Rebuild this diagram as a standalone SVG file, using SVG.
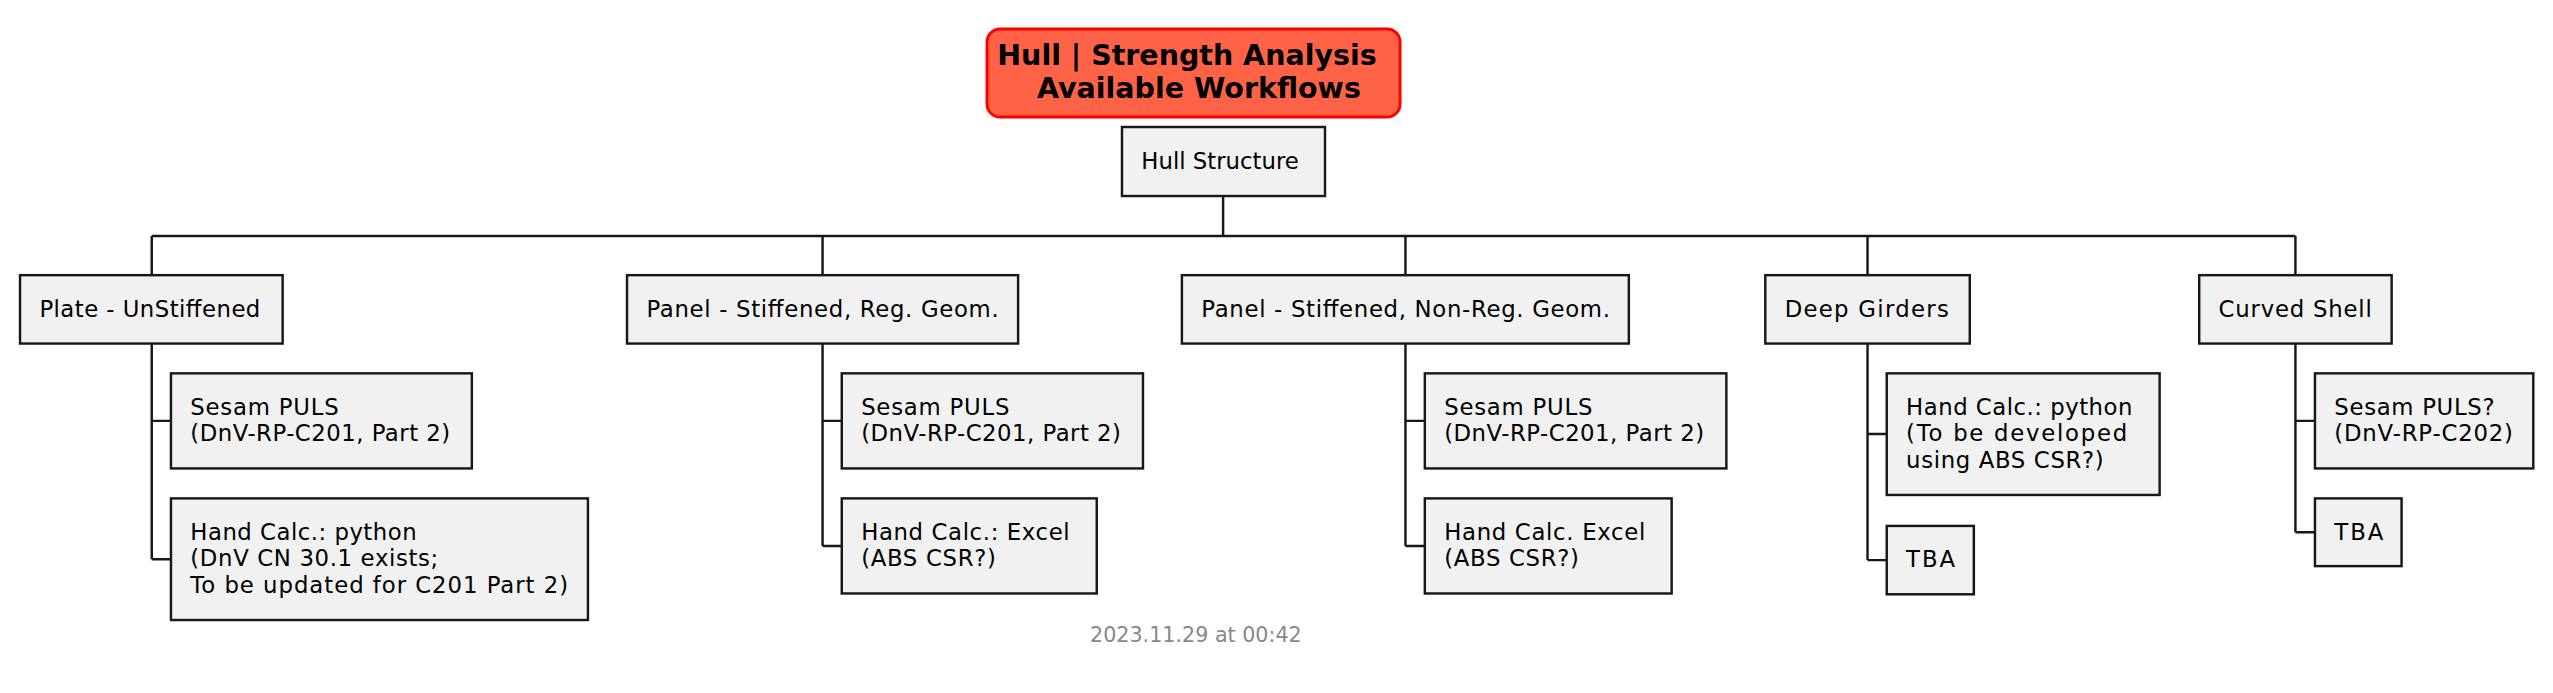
<svg xmlns="http://www.w3.org/2000/svg" width="2553" height="693" viewBox="0 0 2553 693">
<style>
.box{fill:#F1F1F1;stroke:#181818;stroke-width:1.5}
.t{font-family:"DejaVu Sans","Liberation Sans",sans-serif;font-size:14px;fill:#000000}
.title{font-family:"DejaVu Sans","Liberation Sans",sans-serif;font-size:17.5px;font-weight:bold;fill:#000000}
.foot{font-family:"DejaVu Sans","Liberation Sans",sans-serif;font-size:12.7px;fill:#888888}
.ln{fill:none;stroke:#181818;stroke-width:1.5}
</style>
<rect width="2553" height="693" fill="#FFFFFF"/>
<g transform="scale(1.62819)">
<g id="title">
<rect x="606.2" y="17.8" width="253.7" height="54.1" rx="8" ry="8" fill="#FF6347" stroke="#FF0000" stroke-width="1.8"/>
<text class="title" x="612.5" y="39.9">Hull | Strength Analysis</text>
<text class="title" x="636.9" y="60.2">Available Workflows</text>
</g>
<g id="connectors">
<path class="ln" d="M751.2 120.4 V144.9 M93.2 144.9 H1409.8 M93.2 144.9 V169 M505.2 144.9 V169 M863.2 144.9 V169 M1147 144.9 V169 M1409.8 144.9 V169"/>
<path class="ln" d="M93.2 211 V343.5 M93.2 258.5 H105 M93.2 343.5 H105"/>
<path class="ln" d="M505.2 211 V335.3 M505.2 258.5 H517 M505.2 335.3 H517"/>
<path class="ln" d="M863.2 211 V335.3 M863.2 258.5 H875.1 M863.2 335.3 H875.1"/>
<path class="ln" d="M1147 211 V344 M1147 266.6 H1158.8 M1147 344 H1158.8"/>
<path class="ln" d="M1409.8 211 V326.9 M1409.8 258.5 H1421.8 M1409.8 326.9 H1421.8"/>
</g>
<g id="root">
<rect class="box" x="689.1" y="78" width="124.7" height="42.4"/>
<text class="t" x="701" y="104">Hull Structure</text>
</g>
<g id="plate">
<rect class="box" x="12.3" y="169" width="161.3" height="42"/>
<text class="t" x="24.2" y="194.5" textLength="135.7">Plate - UnStiffened</text>
</g>
<g id="plate-puls">
<rect class="box" x="105" y="229.3" width="184.8" height="58.4"/>
<text class="t" x="116.9" y="254.8" textLength="91.1">Sesam PULS</text>
<text class="t" x="116.9" y="271.1" textLength="159.6">(DnV-RP-C201, Part 2)</text>
</g>
<g id="plate-hand">
<rect class="box" x="105" y="306.1" width="256.1" height="74.7"/>
<text class="t" x="116.9" y="331.6" textLength="139">Hand Calc.: python</text>
<text class="t" x="116.9" y="347.9" textLength="152.3">(DnV CN 30.1 exists;</text>
<text class="t" x="116.9" y="364.2" textLength="232">To be updated for C201 Part 2)</text>
</g>
<g id="panel-reg">
<rect class="box" x="385.1" y="169" width="240.2" height="42"/>
<text class="t" x="397" y="194.5" textLength="216.4">Panel - Stiffened, Reg. Geom.</text>
</g>
<g id="panel-reg-puls">
<rect class="box" x="517" y="229.3" width="185" height="58.4"/>
<text class="t" x="528.9" y="254.8" textLength="91.1">Sesam PULS</text>
<text class="t" x="528.9" y="271.1" textLength="159.6">(DnV-RP-C201, Part 2)</text>
</g>
<g id="panel-reg-hand">
<rect class="box" x="517" y="306.1" width="156.6" height="58.4"/>
<text class="t" x="528.9" y="331.6" textLength="128.1">Hand Calc.: Excel</text>
<text class="t" x="528.9" y="347.9" textLength="82.7">(ABS CSR?)</text>
</g>
<g id="panel-nonreg">
<rect class="box" x="725.9" y="169" width="274.5" height="42"/>
<text class="t" x="737.8" y="194.5" textLength="251">Panel - Stiffened, Non-Reg. Geom.</text>
</g>
<g id="panel-nonreg-puls">
<rect class="box" x="875.1" y="229.3" width="185.2" height="58.4"/>
<text class="t" x="887" y="254.8" textLength="91.1">Sesam PULS</text>
<text class="t" x="887" y="271.1" textLength="159.6">(DnV-RP-C201, Part 2)</text>
</g>
<g id="panel-nonreg-hand">
<rect class="box" x="875.1" y="306.1" width="151.6" height="58.4"/>
<text class="t" x="887" y="331.6" textLength="123.5">Hand Calc. Excel</text>
<text class="t" x="887" y="347.9" textLength="82.7">(ABS CSR?)</text>
</g>
<g id="deep-girders">
<rect class="box" x="1084.2" y="169" width="125.6" height="42"/>
<text class="t" x="1096.1" y="194.5" textLength="100.8">Deep Girders</text>
</g>
<g id="deep-girders-hand">
<rect class="box" x="1158.8" y="229.3" width="167.6" height="74.7"/>
<text class="t" x="1170.7" y="254.8" textLength="139">Hand Calc.: python</text>
<text class="t" x="1170.7" y="271.1" textLength="135.8">(To be developed</text>
<text class="t" x="1170.7" y="287.4" textLength="121.3">using ABS CSR?)</text>
</g>
<g id="deep-girders-tba">
<rect class="box" x="1158.8" y="323" width="53.5" height="42"/>
<text class="t" x="1170.7" y="348.5" textLength="30.1">TBA</text>
</g>
<g id="curved-shell">
<rect class="box" x="1350.7" y="169" width="118.2" height="42"/>
<text class="t" x="1362.6" y="194.5" textLength="94.1">Curved Shell</text>
</g>
<g id="curved-shell-puls">
<rect class="box" x="1421.8" y="229.3" width="134.1" height="58.4"/>
<text class="t" x="1433.7" y="254.8" textLength="98.4">Sesam PULS?</text>
<text class="t" x="1433.7" y="271.1" textLength="109.7">(DnV-RP-C202)</text>
</g>
<g id="curved-shell-tba">
<rect class="box" x="1421.8" y="306.1" width="53.2" height="41.6"/>
<text class="t" x="1433.7" y="331.6" textLength="30.1">TBA</text>
</g>
<text class="foot" x="734.5" y="394.1" text-anchor="middle">2023.11.29 at 00:42</text>
</g>
</svg>
